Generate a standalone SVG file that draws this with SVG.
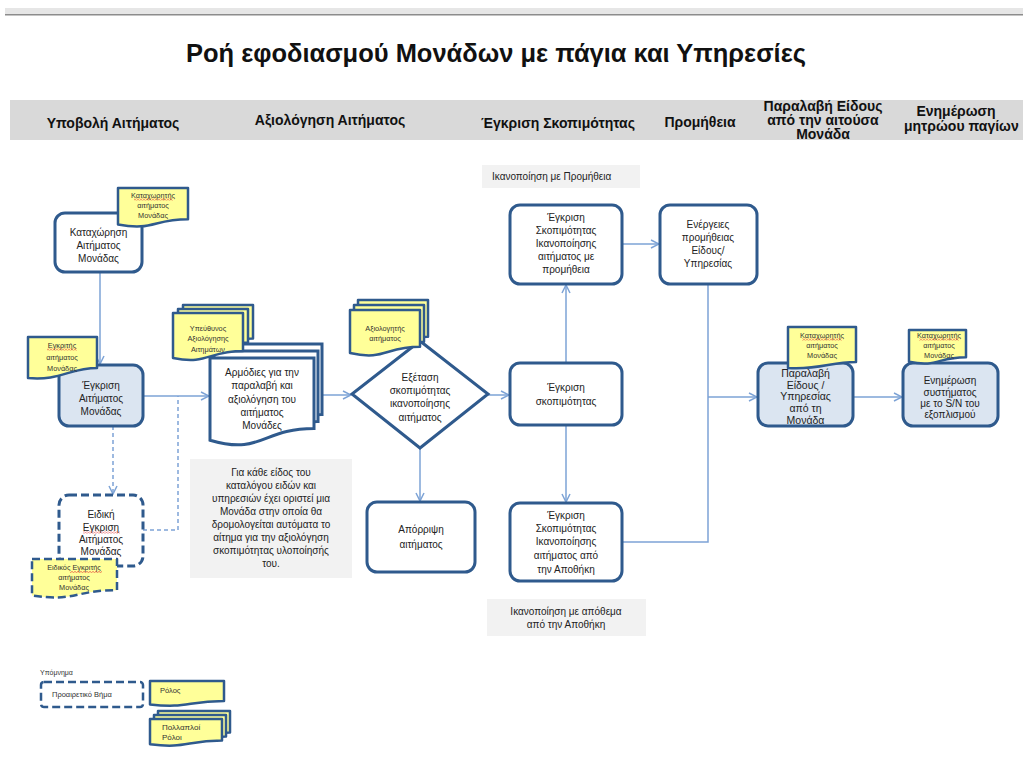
<svg xmlns="http://www.w3.org/2000/svg" width="1023" height="765" viewBox="0 0 1023 765">
<defs>
<style>
.node{fill:#fff;stroke:#2f5a8d;stroke-width:3}
.blue{fill:#dbe5f1}
.dash{stroke-dasharray:8 4}
.role{fill:#ffff99;stroke:#2f5a8d;stroke-width:2.5;stroke-linejoin:round}
.conn{fill:none;stroke:#7da3d6;stroke-width:1.5}
.cd{stroke-dasharray:4 3}
.note{fill:#f2f2f2}
.t{font-family:"Liberation Sans",Arial,sans-serif;font-size:10px;fill:#222;text-anchor:middle}
.rt{font-family:"Liberation Sans",Arial,sans-serif;font-size:7.3px;fill:#333;text-anchor:middle}
.h{font-family:"Liberation Sans",Arial,sans-serif;font-size:14px;font-weight:bold;fill:#111;text-anchor:middle}
.sq{fill:url(#squig)}
</style>
<marker id="ah" markerWidth="10" markerHeight="10" refX="9" refY="5" orient="auto" markerUnits="userSpaceOnUse">
<path d="M1,1 L9,5 L1,9" fill="none" stroke="#7da3d6" stroke-width="1.5"/>
</marker>
<pattern id="squig" width="3" height="2" patternUnits="userSpaceOnUse">
<path d="M0,1.6 L1.5,0.4 L3,1.6" fill="none" stroke="#e02020" stroke-width="0.6"/>
</pattern>
</defs>
<rect width="1023" height="765" fill="#fff"/>
<rect x="5" y="8" width="1018" height="6" fill="#e6e6e6"/>
<rect x="5" y="14" width="1018" height="1.5" fill="#8c8c8c"/>
<text x="496" y="62" font-family="'Liberation Sans',Arial,sans-serif" font-size="26" font-weight="bold" fill="#111" text-anchor="middle" textLength="620" lengthAdjust="spacingAndGlyphs">Ροή εφοδιασμού Μονάδων με πάγια και Υπηρεσίες</text>
<g id="header">
<rect x="10" y="100" width="1013" height="40" fill="#d9d9d9"/>
<text class="h" x="113" y="128">Υποβολή Αιτήματος</text>
<text class="h" x="330" y="125">Αξιολόγηση Αιτήματος</text>
<text class="h" x="558" y="128">Έγκριση Σκοπιμότητας</text>
<text class="h" x="700" y="127">Προμήθεια</text>
<text class="h" x="823" y="111">Παραλαβή Είδους</text>
<text class="h" x="823" y="125">από την αιτούσα</text>
<text class="h" x="823" y="139">Μονάδα</text>
<text class="h" x="956" y="116">Ενημέρωση</text>
<text class="h" x="904" y="131" style="text-anchor:start">μητρώου παγίων</text>
</g>
<g id="connectors">
<path class="conn" d="M100,272 V364" marker-end="url(#ah)"/>
<path class="conn" d="M143,396 H209" marker-end="url(#ah)"/>
<path class="conn cd" d="M113,426 V494" marker-end="url(#ah)"/>
<path class="conn cd" d="M143,530 H178 V396"/>
<path class="conn" d="M318,395 H351" marker-end="url(#ah)"/>
<path class="conn" d="M488,395 H509" marker-end="url(#ah)"/>
<path class="conn" d="M420,448 V501" marker-end="url(#ah)"/>
<path class="conn" d="M566,363 V285" marker-end="url(#ah)"/>
<path class="conn" d="M566,425 V502" marker-end="url(#ah)"/>
<path class="conn" d="M622,244 H659" marker-end="url(#ah)"/>
<path class="conn" d="M708,284 V542 H622"/>
<path class="conn" d="M708,397 H757" marker-end="url(#ah)"/>
<path class="conn" d="M853,397 H902" marker-end="url(#ah)"/>
</g>
<g id="n-kataxorisi">
<rect class="node" x="55" y="213" width="87" height="59" rx="10"/>
<text class="t" x="98.5" y="236">Καταχώρηση</text>
<text class="t" x="98.5" y="249">Αιτήματος</text>
<text class="t" x="98.5" y="262">Μονάδας</text>
</g>
<g id="r-kataxoritis">
<path class="role" d="M118,188 H188 V219.2 C153,219.2 153,231.2 118,224.4 Z"/>
<text class="rt" x="153" y="198">Καταχωρητής</text>
<text class="rt" x="153" y="208">αιτήματος</text>
<text class="rt" x="153" y="218">Μονάδας</text>
<rect class="sq" x="134" y="198.5" width="39" height="2"/>
</g>
<g id="n-egkrisi">
<rect class="node blue" x="59" y="365" width="84" height="61" rx="10"/>
<text class="t" x="101" y="389">Έγκριση</text>
<text class="t" x="101" y="402">Αιτήματος</text>
<text class="t" x="101" y="415">Μονάδας</text>
</g>
<g id="r-egkritis">
<path class="role" d="M28,337 H97 V368 C70,368 60,381 28,378 Z"/>
<text class="rt" x="62" y="348">Εγκριτής</text>
<text class="rt" x="62" y="360">αιτήματος</text>
<text class="rt" x="62" y="371">Μονάδας</text>
<rect class="sq" x="47" y="348.5" width="30" height="2"/>
</g>
<g id="n-eidiki">
<rect class="node dash" x="59" y="495" width="84" height="71" rx="10"/>
<text class="t" x="101" y="518">Ειδική</text>
<text class="t" x="101" y="531">Εγκριση</text>
<text class="t" x="101" y="543">Αιτήματος</text>
<text class="t" x="101" y="555">Μονάδας</text>
<rect class="sq" x="83" y="531.5" width="37" height="2"/>
</g>
<g id="r-eidikos">
<path class="role dash" d="M32,559 H117 V590.2 C74.5,590.2 74.5,602.2 32,595.4 Z"/>
<text class="rt" x="74" y="570">Ειδικός Εγκριτής</text>
<text class="rt" x="74" y="580">αιτήματος</text>
<text class="rt" x="74" y="590">Μονάδας</text>
<rect class="sq" x="70" y="571" width="32" height="2"/>
</g>
<g id="n-armodies">
<path class="node" d="M218,344 H322 V414.4 C270,414.4 270,441.4 218,426.2 Z"/>
<path class="node" d="M214,351 H318 V421.4 C266,421.4 266,448.4 214,433.2 Z"/>
<path class="node" d="M210,358 H314 V428.4 C262,428.4 262,455.4 210,440.2 Z"/>
<text class="t" x="262" y="376">Αρμόδιες για την</text>
<text class="t" x="262" y="389">παραλαβή και</text>
<text class="t" x="262" y="403">αξιολόγηση του</text>
<text class="t" x="262" y="416">αιτήματος</text>
<text class="t" x="262" y="429">Μονάδες</text>
</g>
<g id="r-ypeythynos">
<path class="role" d="M183,305 H253 V338.6 C218,338.6 218,351.5 183,344.2 Z"/>
<path class="role" d="M178,309 H248 V342.6 C213,342.6 213,355.5 178,348.2 Z"/>
<path class="role" d="M173,313 H243 V351 C208,351 208,365 173,358 Z"/>
<text class="rt" x="208" y="331">Υπεύθυνος</text>
<text class="rt" x="208" y="341">Αξιολόγησης</text>
<text class="rt" x="208" y="352">Αιτημάτων</text>
</g>
<g id="note-monada">
<rect class="note" x="190" y="459" width="162" height="119"/>
<text class="t" x="271" y="476">Για κάθε είδος του</text>
<text class="t" x="271" y="489">καταλόγου ειδών και</text>
<text class="t" x="271" y="502">υπηρεσιών έχει οριστεί μια</text>
<text class="t" x="271" y="515">Μονάδα στην οποία θα</text>
<text class="t" x="271" y="528">δρομολογείται αυτόματα το</text>
<text class="t" x="271" y="541">αίτημα για την αξιολόγηση</text>
<text class="t" x="271" y="554">σκοπιμότητας υλοποίησής</text>
<text class="t" x="271" y="567">του.</text>
</g>
<g id="n-exetasi">
<polygon class="node" points="420,341 488,394 420,448 352,394"/>
<text class="t" x="420" y="381">Εξέταση</text>
<text class="t" x="420" y="394">σκοπιμότητας</text>
<text class="t" x="420" y="407">ικανοποίησης</text>
<text class="t" x="420" y="421">αιτήματος</text>
</g>
<g id="r-axiologitis">
<path class="role" d="M358,300 H428 V336.8 C393,336.8 393,350.9 358,343 Z"/>
<path class="role" d="M354,305 H424 V341.8 C389,341.8 389,355.9 354,348 Z"/>
<path class="role" d="M350,310 H420 V346.8 C385,346.8 385,360.9 350,353 Z"/>
<text class="rt" x="385" y="331">Αξιολογητής</text>
<text class="rt" x="385" y="341">αιτήματος</text>
</g>
<g id="n-aporripsi">
<rect class="node" x="367" y="502" width="108" height="70" rx="10"/>
<text class="t" x="421" y="533">Απόρριψη</text>
<text class="t" x="421" y="548">αιτήματος</text>
</g>
<g id="note-promitheia">
<rect class="note" x="482" y="165" width="158" height="23"/>
<text class="t" x="492" y="180" style="text-anchor:start">Ικανοποίηση με Προμήθεια</text>
</g>
<g id="n-egkrisi-promitheia">
<rect class="node" x="510" y="205" width="112" height="79" rx="10"/>
<text class="t" x="566" y="221">Έγκριση</text>
<text class="t" x="566" y="234">Σκοπιμότητας</text>
<text class="t" x="566" y="247">Ικανοποίησης</text>
<text class="t" x="566" y="260">αιτήματος με</text>
<text class="t" x="566" y="273">προμήθεια</text>
</g>
<g id="n-egkrisi-skopimotitas">
<rect class="node" x="510" y="363" width="112" height="62" rx="10"/>
<text class="t" x="566" y="391">Έγκριση</text>
<text class="t" x="566" y="405">σκοπιμότητας</text>
</g>
<g id="n-egkrisi-apothiki">
<rect class="node" x="510" y="503" width="112" height="78" rx="10"/>
<text class="t" x="566" y="519">Έγκριση</text>
<text class="t" x="566" y="532">Σκοπιμότητας</text>
<text class="t" x="566" y="545">Ικανοποίησης</text>
<text class="t" x="566" y="559">αιτήματος από</text>
<text class="t" x="566" y="573">την Αποθήκη</text>
</g>
<g id="note-apothema">
<rect class="note" x="487" y="599" width="159" height="37"/>
<text class="t" x="566" y="615">Ικανοποίηση με απόθεμα</text>
<text class="t" x="566" y="628">από την Αποθήκη</text>
</g>
<g id="n-energeies">
<rect class="node" x="660" y="205" width="97" height="79" rx="10"/>
<text class="t" x="708" y="228">Ενέργειες</text>
<text class="t" x="708" y="241">προμήθειας</text>
<text class="t" x="708" y="254">Είδους/</text>
<text class="t" x="708" y="267">Υπηρεσίας</text>
</g>
<g id="n-paralavi">
<rect class="node blue" x="758" y="363" width="95" height="63" rx="10"/>
<text class="t" x="805.5" y="377" style="font-size:10.5px">Παραλαβή</text>
<text class="t" x="805.5" y="389" style="font-size:10.5px">Είδους /</text>
<text class="t" x="805.5" y="400" style="font-size:10.5px">Υπηρεσίας</text>
<text class="t" x="805.5" y="412" style="font-size:10.5px">από τη</text>
<text class="t" x="805.5" y="424" style="font-size:10.5px">Μονάδα</text>
</g>
<g id="r-kataxoritis-2">
<path class="role" d="M788,327 H856 V362 C830,362 820,370 788,368 Z"/>
<text class="rt" x="822" y="338">Καταχωρητής</text>
<text class="rt" x="822" y="348">αιτήματος</text>
<text class="rt" x="822" y="358">Μονάδας</text>
<rect class="sq" x="802" y="338.5" width="40" height="2"/>
</g>
<g id="n-enimerosi">
<rect class="node blue" x="903" y="363" width="95" height="63" rx="10"/>
<text class="t" x="950" y="384">Ενημέρωση</text>
<text class="t" x="950" y="396">συστήματος</text>
<text class="t" x="950" y="407">με το S/N του</text>
<text class="t" x="950" y="418">εξοπλισμού</text>
</g>
<g id="r-kataxoritis-3">
<path class="role" d="M909,330 H966 V357.2 C937.5,357.2 937.5,367.6 909,361.8 Z"/>
<text class="rt" x="939" y="338">Καταχωρητής</text>
<text class="rt" x="939" y="348">αιτήματος</text>
<text class="rt" x="939" y="358">Μονάδας</text>
<rect class="sq" x="919" y="338.5" width="40" height="2"/>
</g>
<g id="legend">
<text x="40" y="675" font-family="'Liberation Sans',Arial,sans-serif" font-size="7" fill="#333">Υπόμνημα</text>
<rect class="node dash" x="41" y="682" width="102" height="25" rx="3" style="stroke-width:2.5"/>
<text x="52" y="697" font-family="'Liberation Sans',Arial,sans-serif" font-size="7.5" fill="#333">Προαιρετικό Βήμα</text>
<path class="role" d="M150,681 H224 V701 C187,701 187,708.7 150,704.4 Z"/>
<text x="160" y="693" font-family="'Liberation Sans',Arial,sans-serif" font-size="7.5" fill="#333">Ρόλος</text>
<path class="role" d="M158,711 H230 V732.6 C194,732.6 194,740.9 158,736.2 Z"/>
<path class="role" d="M154,715 H226 V736.6 C190,736.6 190,744.9 154,740.2 Z"/>
<path class="role" d="M150,719 H222 V740.6 C186,740.6 186,748.9 150,744.2 Z"/>
<text x="162" y="730" font-family="'Liberation Sans',Arial,sans-serif" font-size="8" fill="#333">Πολλαπλοί</text>
<text x="162" y="740" font-family="'Liberation Sans',Arial,sans-serif" font-size="8" fill="#333">Ρόλοι</text>
</g>
</svg>
